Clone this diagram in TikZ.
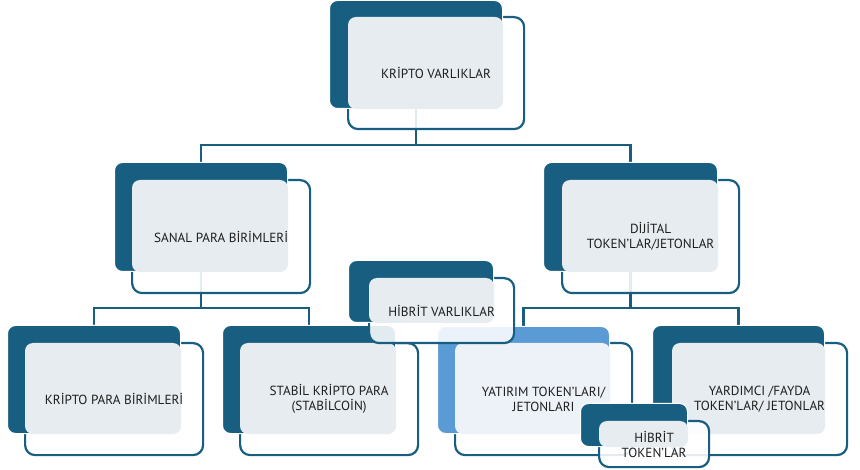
\documentclass[tikz,border=0pt]{standalone}
\usepackage{fontspec}
\setmainfont{PT Sans}
\usetikzlibrary{fit, backgrounds}
\definecolor{koyu}{RGB}{24,94,128}
\definecolor{acik}{RGB}{230,236,240}
\definecolor{mavi}{RGB}{91,155,213}
\definecolor{acikmavi}{RGB}{237,242,249}
\definecolor{yazi}{RGB}{30,30,30}
\tikzset{%
	arka-koyu/.style={
		fill=koyu,
		draw=white,
		line width=1pt,
		rounded corners=8pt,
		inner sep=0pt,
		anchor=north west
	},
	arka-mavi/.style={arka-koyu, fill=mavi},
	cerceve/.style={
		draw=koyu,
		fill=white,
		fill opacity=0.88,
		line width=2.2pt,
		rounded corners=10pt,
		inner sep=0pt,
		anchor=north west
	},
	zemin-koyu/.style={fill=acik, rounded corners=8pt, inner sep=0pt},
	zemin-mavi/.style={zemin-koyu, fill=acikmavi},
	etiket/.style={text=yazi, font=\fontsize{13.2}{15}\selectfont, align=center},
	baglanti/.style={draw=koyu, line width=2.4pt},
}
\begin{document}
\begin{tikzpicture}[x=1pt, y=-1pt]
			\useasboundingbox (0,0) rectangle (860,470);
			% One box: outline, dark back, light text area, label
			\newcommand{\kutu}[9]{%
				\node[cerceve, minimum width=#6pt, minimum height=#7pt] (#1O) at #5 {};
				\node[arka-#8, minimum width=#3pt, minimum height=#4pt] (#1D) at #2 {};
				\node[zemin-#8, fit={([shift={(1,1)}]#1O.north west) (#1D.south east)}] (#1Z) {};
				\node[etiket] (#1) at (#1O.center) {#9};
			}
			
			% Top level
			\kutu{kv}{(329,0)}{173}{108}{(347,16)}{176}{112}{koyu}{KRİPTO VARLIKLAR}
			% Second level
			\kutu{sp}{(114,162)}{173}{109}{(131,179)}{178}{113}{koyu}{SANAL PARA BİRİMLERİ}
			\kutu{dt}{(543,162)}{174}{109}{(561,179)}{177}{113}{koyu}{DİJİTAL\\TOKEN'LAR/JETONLAR}
			% Third level
			\kutu{kp}{(7,325)}{173}{108}{(24,342)}{178}{112}{koyu}{KRİPTO PARA BİRİMLERİ}
			\kutu{st}{(222,325)}{173}{108}{(239,342)}{178}{112}{koyu}{STABİL KRİPTO PARA\\(STABİLCOİN)}
			\kutu{yt}{(437,326)}{172}{107}{(454,342)}{177}{112}{mavi}{YATIRIM TOKEN'LARI/\\JETONLARI}
			\kutu{yd}{(652,325)}{172}{108}{(671,342)}{175}{112}{koyu}{YARDIMCI /FAYDA\\TOKEN'LAR/ JETONLAR}
			% Hybrid boxes on top
			\kutu{hv}{(348,260)}{145}{62}{(368,277)}{145}{65}{koyu}{HİBRİT VARLIKLAR}
			\kutu{ht}{(580,403)}{107}{43}{(598,420)}{110}{46}{koyu}{HİBRİT\\TOKEN'LAR}
			
			% Connectors behind the boxes
			\begin{scope}[on background layer]
				\foreach \cocuk in {sp,dt}
				\draw[baglanti] (kvD.south) -- ++(0,36) -| (\cocuk D.north);
				\foreach \cocuk in {kp,st}
				\draw[baglanti] (spD.south) -- ++(0,36) -| (\cocuk D.north);
				\foreach \cocuk in {yt,yd}
				\draw[baglanti] (dtD.south) -- ++(0,36) -| (\cocuk D.north);
			\end{scope}
		\end{tikzpicture}
\end{document}
